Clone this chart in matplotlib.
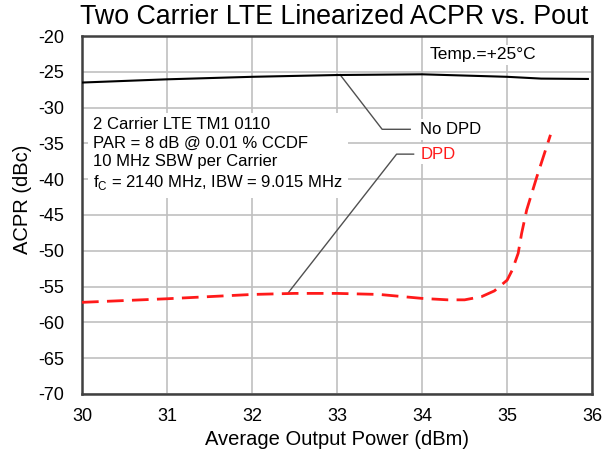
import matplotlib
matplotlib.use("Agg")
import matplotlib.pyplot as plt

plt.rcParams['font.family'] = ['Liberation Sans', 'DejaVu Sans']
plt.rcParams['axes.unicode_minus'] = False

title = "Two Carrier LTE Linearized ACPR vs. Pout"
xlabel = "Average Output Power (dBm)"
ylabel = "ACPR (dBc)"

nodpd_x = [30, 31, 32, 33, 34, 35, 35.4, 35.95]
nodpd_y = [-26.5, -26.05, -25.7, -25.45, -25.35, -25.7, -25.95, -26.0]

dpd_x = [30, 30.5, 31, 31.5, 32, 32.5, 33, 33.5, 34, 34.3, 34.5, 34.7, 34.85,
         35.0, 35.06, 35.13, 35.17, 35.23, 35.35, 35.51]
dpd_y = [-57.2, -56.95, -56.7, -56.4, -56.1, -55.95, -55.95, -56.1, -56.65, -56.85,
         -56.85, -56.4, -55.6, -54.1, -52.7, -50.35, -47.6, -44.3, -39.65, -33.8]

xticks = [30, 31, 32, 33, 34, 35, 36]
yticks = [-20, -25, -30, -35, -40, -45, -50, -55, -60, -65, -70]

fig = plt.figure(figsize=(6.03, 4.54), dpi=100)
ax = fig.add_axes([0.136, 0.1322, 0.846, 0.7885])

ax.plot(nodpd_x, nodpd_y, color='black', lw=1.5, zorder=3)
ax.plot(dpd_x, dpd_y, color='#ff1a1a', lw=2, dashes=(6, 3), zorder=3)

ax.set_xlim(30, 36)
ax.set_ylim(-70, -20)
ax.set_xticks(xticks)
ax.set_yticks(yticks)
ax.tick_params(length=0, labelsize=13)
ax.tick_params(axis='x', pad=10)
ax.tick_params(axis='y', pad=13)
ax.grid(True, color='#c0c0c0', lw=1.2)
ax.set_axisbelow(True)
for s in ax.spines.values():
    s.set_color('#404040')
    s.set_linewidth(1.8)

ax.set_xlabel(xlabel, fontsize=14.5, labelpad=4)
ax.set_ylabel(ylabel, fontsize=14.5)
ax.yaxis.set_label_coords(-0.098, 0.545)
fig.text(0.554, 0.962, title, ha='center', va='center', fontsize=19.3)

box = dict(facecolor='white', edgecolor='none', pad=2)
lines = ["2 Carrier LTE TM1 0110", "PAR = 8 dB @ 0.01 % CCDF",
         "10 MHz SBW per Carrier", "f$_\\mathregular{C}$ = 2140 MHz, IBW = 9.015 MHz"]
ax.text(30.13, -36.55, "\n".join(lines), ha='left', va='center', fontsize=12,
        linespacing=1.29, bbox=dict(facecolor='white', edgecolor='none', pad=4), zorder=2)

ax.text(34.09, -22.65, "Temp.=+25°C", ha='left', va='center', fontsize=12.5, bbox=box, zorder=2)

ax.plot([33.035, 33.53, 33.86], [-25.4, -33.03, -33.03], color='#505050', lw=1, zorder=2.5)
ax.text(33.98, -33.03, "No DPD", ha='left', va='center', fontsize=12, bbox=box, zorder=2)
ax.plot([32.43, 33.70, 33.9], [-55.8, -36.5, -36.5], color='#505050', lw=1, zorder=2.5)
ax.text(33.98, -36.5, "DPD", ha='left', va='center', fontsize=12, color='#ff1a1a', bbox=box, zorder=2)

fig.savefig("out.png", dpi=100)
